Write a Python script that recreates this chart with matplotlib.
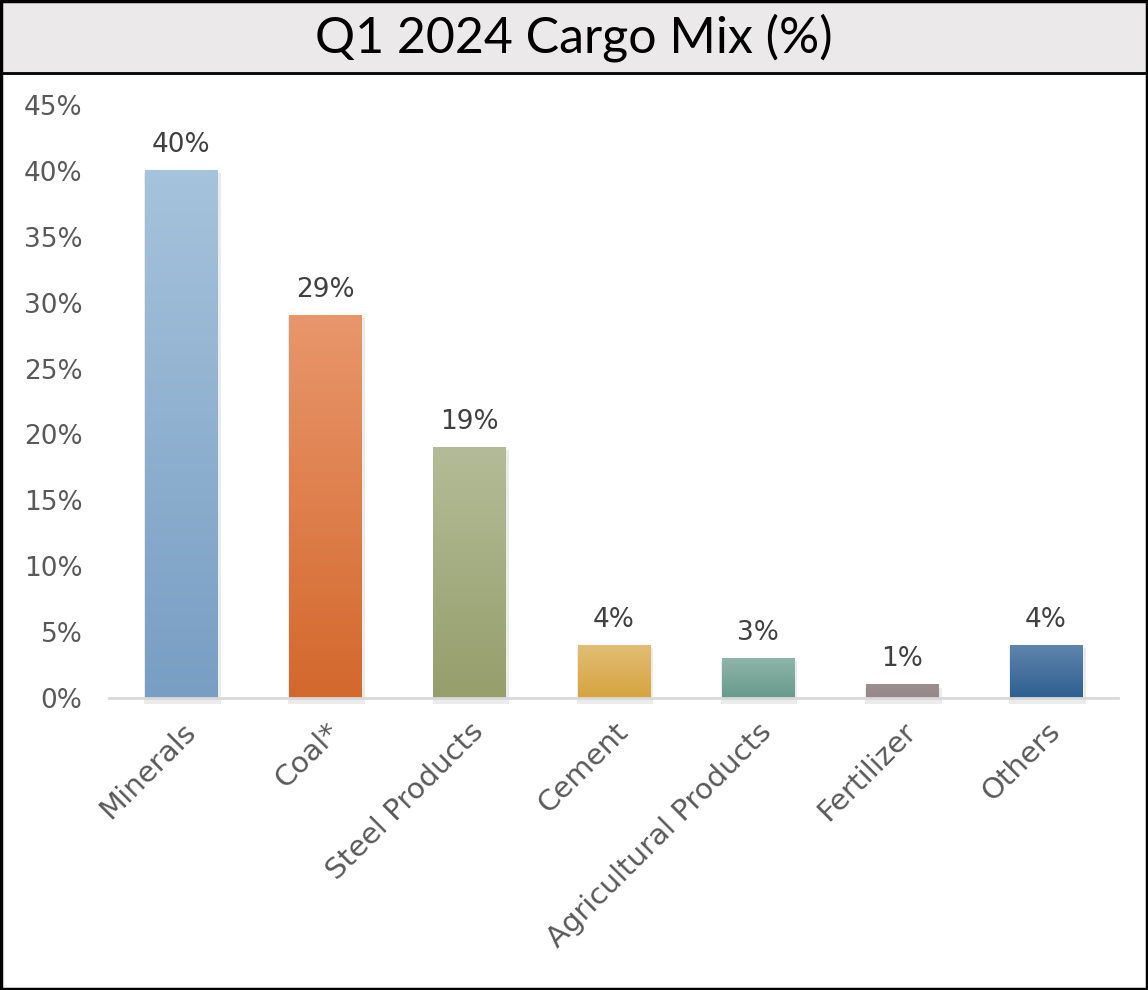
import matplotlib
matplotlib.use('Agg')
import matplotlib.pyplot as plt
import numpy as np
from matplotlib.colors import LinearSegmentedColormap
from matplotlib.patches import Rectangle

# ---------------------INPUT------------------------------------------
title = "Q1 2024 Cargo Mix (%)"
categories = ["Minerals", "Coal*", "Steel Products", "Cement",
              "Agricultural Products", "Fertilizer", "Others"]
shares = [40, 29, 19, 4, 3, 1, 4]
top_colors = ["#A6C3DC", "#E9966C", "#B3BC96", "#E3BD76", "#8EB5A9", "#9C8F8F", "#5F85AC"]
bottom_colors = ["#789EC3", "#D3682C", "#969E6C", "#D5A43E", "#689A8B", "#968888", "#2E5F8F"]
y_ticks = [0, 5, 10, 15, 20, 25, 30, 35, 40, 45]
# --------------------------------------------------------------------

plt.rcParams['font.family'] = ['DejaVu Sans']
text_col = '#595959'

fig = plt.figure(figsize=(11.48, 9.9), dpi=100)
ax = fig.add_axes([0.0949, 0.2949, 0.8791, 0.5991])

x = np.arange(len(categories))
width = 0.5
grad = np.linspace(0, 1, 256).reshape(-1, 1)

for xi, v, ct, cb in zip(x, shares, top_colors, bottom_colors):
    # soft shadow
    ax.bar(xi + 0.01, v + 0.25, width + 0.03, bottom=-0.45, color='#000000', alpha=0.08,
           zorder=1, linewidth=0, clip_on=False)
    cmap = LinearSegmentedColormap.from_list('g', [cb, ct])
    ax.imshow(grad, cmap=cmap, aspect='auto', origin='lower',
              extent=[xi - width / 2, xi + width / 2, 0, v], zorder=2)
    ax.annotate(f"{v}%", (xi, v), xytext=(0, 9), textcoords='offset points',
                ha='center', va='bottom', fontsize=19, color='#404040')

ax.set_xlim(-0.5, len(categories) - 0.5)
ax.set_ylim(0, 45)
ax.set_yticks(y_ticks)
ax.set_yticklabels([f"{t}%" for t in y_ticks], fontsize=19, color=text_col)
ax.set_xticks(x)
ax.set_xticklabels(categories, rotation=45, ha='right', rotation_mode='anchor',
                   fontsize=21, color=text_col)
ax.tick_params(length=0)
ax.tick_params(axis='y', pad=19)
ax.tick_params(axis='x', pad=14)
for s in ['top', 'right', 'left']:
    ax.spines[s].set_visible(False)
ax.spines['bottom'].set_color('#D9D9D9')
ax.spines['bottom'].set_linewidth(2)
ax.spines['bottom'].set_zorder(3)

# title band and frame
fig.patches.append(Rectangle((0, 1 - 73 / 990), 1, 73 / 990, transform=fig.transFigure,
                             facecolor='#EBE9EA', edgecolor='black', linewidth=2, zorder=0))
fig.text(0.5, 1 - 38 / 990, title, ha='center', va='center', fontsize=36,
         color='black', family=['Lato', 'DejaVu Sans'])
fig.patches.append(Rectangle((0.001, 0.001), 0.998, 0.998, transform=fig.transFigure,
                             facecolor='none', edgecolor='black', linewidth=2.5, zorder=5))

fig.savefig('out.png', dpi=100)
